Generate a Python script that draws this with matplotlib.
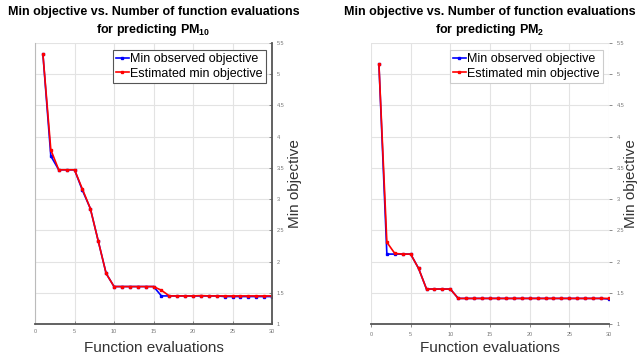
import numpy as np
import matplotlib.pyplot as plt
from matplotlib.ticker import FuncFormatter

plt.rcParams['font.family'] = 'Liberation Sans'
plt.rcParams['mathtext.fontset'] = 'custom'
plt.rcParams['mathtext.rm'] = 'Liberation Sans'
plt.rcParams['mathtext.bf'] = 'Liberation Sans:bold'

# Bayesian optimisation traces (30 evaluations each)
evals = np.arange(1, 31)

pm10_observed = [5.32, 3.69, 3.47, 3.47, 3.47, 3.14, 2.85, 2.33, 1.81, 1.60,
                 1.60, 1.60, 1.60, 1.60, 1.60, 1.45, 1.45, 1.45, 1.45, 1.45,
                 1.45, 1.45, 1.45, 1.44, 1.44, 1.44, 1.44, 1.44, 1.44, 1.44]
pm10_estimated = [5.32, 3.79, 3.47, 3.47, 3.47, 3.16, 2.85, 2.33, 1.81, 1.60,
                  1.60, 1.60, 1.60, 1.60, 1.60, 1.54, 1.45, 1.45, 1.45, 1.45,
                  1.455, 1.45, 1.45, 1.45, 1.45, 1.45, 1.45, 1.45, 1.45, 1.45]

pm2_observed = [5.16, 2.12, 2.12, 2.12, 2.12, 1.89, 1.56, 1.56, 1.56, 1.56,
                1.41, 1.41, 1.41, 1.41, 1.41, 1.41, 1.41, 1.41, 1.41, 1.41,
                1.41, 1.41, 1.41, 1.41, 1.41, 1.41, 1.41, 1.41, 1.41, 1.40]
pm2_estimated = [5.16, 2.31, 2.13, 2.12, 2.12, 1.89, 1.56, 1.56, 1.56, 1.56,
                 1.41, 1.41, 1.41, 1.41, 1.41, 1.41, 1.41, 1.41, 1.41, 1.41,
                 1.41, 1.41, 1.41, 1.41, 1.41, 1.41, 1.41, 1.41, 1.41, 1.41]

panels = [
    (pm10_observed, pm10_estimated, '10'),
    (pm2_observed, pm2_estimated, '2'),
]

fig = plt.figure(figsize=(6.38, 3.63), dpi=100)
ax_left = fig.add_axes([0.0549, 0.1074, 0.3715, 0.774])
ax_right = fig.add_axes([0.5815, 0.1074, 0.373, 0.774])

fmt = FuncFormatter(lambda v, p: ('%g' % v))

for i, (ax, (obs, est, sub)) in enumerate(zip([ax_left, ax_right], panels)):
    ax.plot(evals, obs, color='#0000ff', lw=1.2, marker='s', ms=2,
            label='Min observed objective')
    ax.plot(evals, est, color='#ff0000', lw=1.2, marker='s', ms=2,
            label='Estimated min objective')

    ax.set_xlim(0, 30)
    ax.set_ylim(1, 5.5)
    ax.set_xticks(np.arange(0, 31, 5))
    ax.set_yticks(np.arange(1, 5.51, 0.5))
    ax.yaxis.set_major_formatter(fmt)
    ax.yaxis.tick_right()
    ax.yaxis.set_label_position('right')
    ax.grid(True, color='#e3e3e3', lw=0.8)
    ax.set_axisbelow(True)
    ax.tick_params(labelsize=4, colors='#777777', length=2, width=0.6,
                   direction='in' if i == 0 else 'out')

    ax.spines['top'].set_visible(False)
    ax.spines['bottom'].set_color('#555555')
    ax.spines['bottom'].set_linewidth(1.3)
    if i == 0:
        ax.spines['right'].set_color('#555555')
        ax.spines['right'].set_linewidth(1.3)
        ax.spines['left'].set_color('#bbbbbb')
        ax.spines['left'].set_linewidth(0.8)
    else:
        ax.spines['right'].set_visible(False)
        ax.spines['left'].set_visible(False)

    ax.set_xlabel('Function evaluations', fontsize=11, color='#333333')
    ax.xaxis.set_label_coords(0.5, -0.062)
    ax.set_ylabel('Min objective', fontsize=11, color='#333333')
    ax.yaxis.set_label_coords(1.066 if i == 0 else 1.062, 0.5)
    ax.set_title('Min objective vs. Number of function evaluations\n'
                 'for predicting PM$_{\\mathbf{%s}}$' % sub,
                 fontsize=9, fontweight='bold', pad=7, linespacing=1.35)

    leg = ax.legend(loc='upper right', fontsize=9, handlelength=1.0,
                    handletextpad=0.15, borderpad=0.25, labelspacing=0.2,
                    borderaxespad=0, fancybox=False, framealpha=1,
                    bbox_to_anchor=(0.975, 0.975))
    leg.get_frame().set_edgecolor('#555555' if i == 0 else '#cccccc')
    leg.get_frame().set_linewidth(0.8)

fig.savefig('out.png', dpi=100)
